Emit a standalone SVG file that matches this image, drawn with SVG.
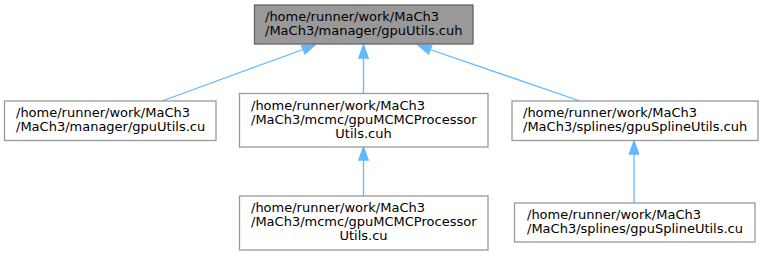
<svg xmlns="http://www.w3.org/2000/svg" width="763" height="256" viewBox="0 0 763 256">
  <style>
    text { font-family: "DejaVu Sans", "Liberation Sans", sans-serif; font-size: 13px; fill: #000000; }
    .box { fill: #ffffff; stroke: #999999; stroke-width: 1.3; }
    .root { fill: #999999; stroke: #666666; stroke-width: 1.3; }
    .edge { fill: none; stroke: #63b8ff; stroke-width: 1.3; }
    .head { fill: #63b8ff; stroke: #63b8ff; stroke-width: 1.3; }
  </style>
  <rect width="763" height="256" fill="#ffffff"/>

  <g id="connectors">
    <!-- gpuUtils.cu -> gpuUtils.cuh -->
    <path class="edge" d="M162,101 L303,49.5"/>
    <polygon class="head" points="315,45 301.5,45.5 305,54"/>
    <!-- gpuMCMCProcessorUtils.cuh -> gpuUtils.cuh -->
    <path class="edge" d="M363.5,93 L363.5,58"/>
    <polygon class="head" points="363.5,45 358.8,58 368.2,58"/>
    <!-- gpuSplineUtils.cuh -> gpuUtils.cuh -->
    <path class="edge" d="M580,101 L430,49.5"/>
    <polygon class="head" points="418,45 428.5,54 431.8,45.5"/>
    <!-- gpuMCMCProcessorUtils.cu -> gpuMCMCProcessorUtils.cuh -->
    <path class="edge" d="M363.5,196 L363.5,160"/>
    <polygon class="head" points="363.5,147 358.8,160 368.2,160"/>
    <!-- gpuSplineUtils.cu -> gpuSplineUtils.cuh -->
    <path class="edge" d="M634,203 L634,154"/>
    <polygon class="head" points="634,141 629.3,154 638.7,154"/>
  </g>

  <g id="node1">
    <rect class="root" x="254.5" y="5" width="218.5" height="39"/>
    <text x="265" y="21">/home/runner/work/MaCh3</text>
    <text x="265" y="35">/MaCh3/manager/gpuUtils.cuh</text>
  </g>

  <g id="node2">
    <rect class="box" x="4.5" y="101" width="211.5" height="39.5"/>
    <text x="16" y="117">/home/runner/work/MaCh3</text>
    <text x="16" y="131">/MaCh3/manager/gpuUtils.cu</text>
  </g>

  <g id="node3">
    <rect class="box" x="239.5" y="93.5" width="248.5" height="53.5"/>
    <text x="251" y="109.5">/home/runner/work/MaCh3</text>
    <text x="251" y="123.5">/MaCh3/mcmc/gpuMCMCProcessor</text>
    <text x="363.5" y="137.5" text-anchor="middle">Utils.cuh</text>
  </g>

  <g id="node4">
    <rect class="box" x="512" y="101" width="246" height="39.5"/>
    <text x="523" y="117">/home/runner/work/MaCh3</text>
    <text x="523" y="131">/MaCh3/splines/gpuSplineUtils.cuh</text>
  </g>

  <g id="node5">
    <rect class="box" x="239.5" y="196" width="248.5" height="54"/>
    <text x="251" y="212">/home/runner/work/MaCh3</text>
    <text x="251" y="226">/MaCh3/mcmc/gpuMCMCProcessor</text>
    <text x="363.5" y="240" text-anchor="middle">Utils.cu</text>
  </g>

  <g id="node6">
    <rect class="box" x="514.5" y="203" width="240.5" height="39"/>
    <text x="527" y="219">/home/runner/work/MaCh3</text>
    <text x="527" y="233">/MaCh3/splines/gpuSplineUtils.cu</text>
  </g>
</svg>
